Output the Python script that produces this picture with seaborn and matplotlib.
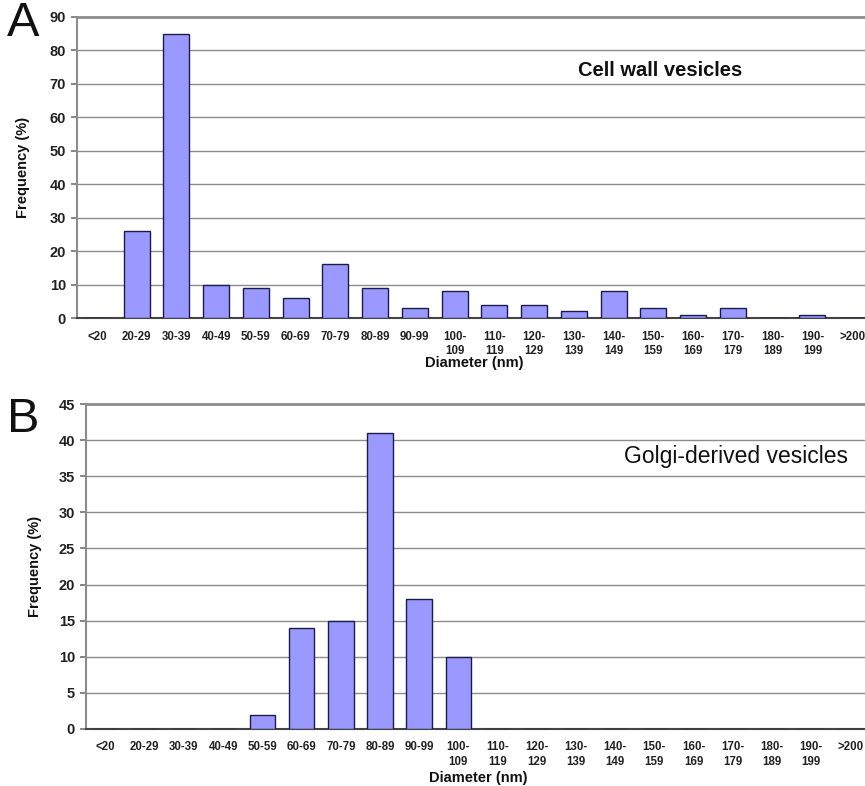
import numpy as np
import pandas as pd
import matplotlib
matplotlib.use("Agg")
import matplotlib.pyplot as plt
import seaborn as sns

# Size classes (nm) and frequencies (%)
bins = ["<20", "20-29", "30-39", "40-49", "50-59", "60-69", "70-79", "80-89",
        "90-99", "100-\n109", "110-\n119", "120-\n129", "130-\n139", "140-\n149",
        "150-\n159", "160-\n169", "170-\n179", "180-\n189", "190-\n199", ">200"]
cell_wall = [0, 26, 85, 10, 9, 6, 16, 9, 3, 8, 4, 4, 2, 8, 3, 1, 3, 0, 1, 0]
golgi = [0, 0, 0, 0, 2, 14, 15, 41, 18, 10, 0, 0, 0, 0, 0, 0, 0, 0, 0, 0]

sns.set_theme(style="white")
plt.rcParams["font.family"] = ["Liberation Sans", "DejaVu Sans"]

W, H = 865, 786
fig = plt.figure(figsize=(W / 100, H / 100), dpi=100)


def px_axes(x0, y0, x1, y1):
    return fig.add_axes([x0 / W, 1 - y1 / H, (x1 - x0) / W, (y1 - y0) / H])


def panel(ax, values, ymax, ystep, title, title_xy, title_weight, title_size,
          ylabelpad, xlabelpad):
    df = pd.DataFrame({"bin": bins, "freq": values})
    sns.barplot(data=df, x="bin", y="freq", color="#9999FF", saturation=1,
                edgecolor="#1c1c4a", linewidth=1.0, width=0.65, ax=ax, zorder=3)
    ax.set_xlim(-0.5, len(bins) - 0.5)
    ax.set_ylim(0, ymax)
    ax.set_yticks(np.arange(0, ymax + 1, ystep))
    ax.yaxis.grid(True, color="#8c8c8c", linewidth=1.0, zorder=0)
    ax.set_axisbelow(True)
    ax.set_xticks(np.arange(-0.5, len(bins), 1.0), minor=True)
    ax.tick_params(axis="x", which="major", length=0, pad=9,
                   labelsize=8.3, labelcolor="#222222")
    ax.tick_params(axis="x", which="minor", length=4, color="#555555", width=1)
    ax.tick_params(axis="y", which="major", length=4, left=True, color="#777777",
                   labelsize=10.5, labelcolor="#222222", pad=4)
    for lab in ax.get_xticklabels():
        lab.set_fontweight("bold")
        lab.set_linespacing(1.3)
    for lab in ax.get_yticklabels():
        lab.set_fontweight("bold")
    ax.spines["top"].set_color("#8c8c8c")
    ax.spines["top"].set_linewidth(2.0)
    ax.spines["left"].set_color("#8c8c8c")
    ax.spines["left"].set_linewidth(1.5)
    ax.spines["bottom"].set_color("#444444")
    ax.spines["bottom"].set_linewidth(1.5)
    ax.spines["right"].set_visible(False)
    ax.set_xlabel("Diameter (nm)", fontsize=10.5, fontweight="bold",
                  labelpad=xlabelpad, color="#111111")
    ax.set_ylabel("Frequency (%)", fontsize=10.5, fontweight="bold",
                  labelpad=ylabelpad, color="#111111")
    fig.text(title_xy[0] / W, 1 - title_xy[1] / H, title, ha="center", va="center",
             fontsize=title_size, fontweight=title_weight, color="#111111")


# A. Cell wall vesicles
ax1 = px_axes(77, 17, 872, 318)
panel(ax1, cell_wall, 90, 10, "Cell wall vesicles", (660, 70), "bold", 14.5,
      ylabelpad=14, xlabelpad=-1)
fig.text(7 / W, 1 - 23 / H, "A", fontsize=35, va="center", ha="left", color="#111111")

# B. Golgi-derived vesicles
ax2 = px_axes(86, 404, 870, 729)
panel(ax2, golgi, 45, 5, "Golgi-derived vesicles", (736, 457), "normal", 16.5,
      ylabelpad=12, xlabelpad=2)
fig.text(7 / W, 1 - 420 / H, "B", fontsize=35, va="center", ha="left", color="#111111")

fig.savefig("out.png", dpi=100)
plt.close(fig)
